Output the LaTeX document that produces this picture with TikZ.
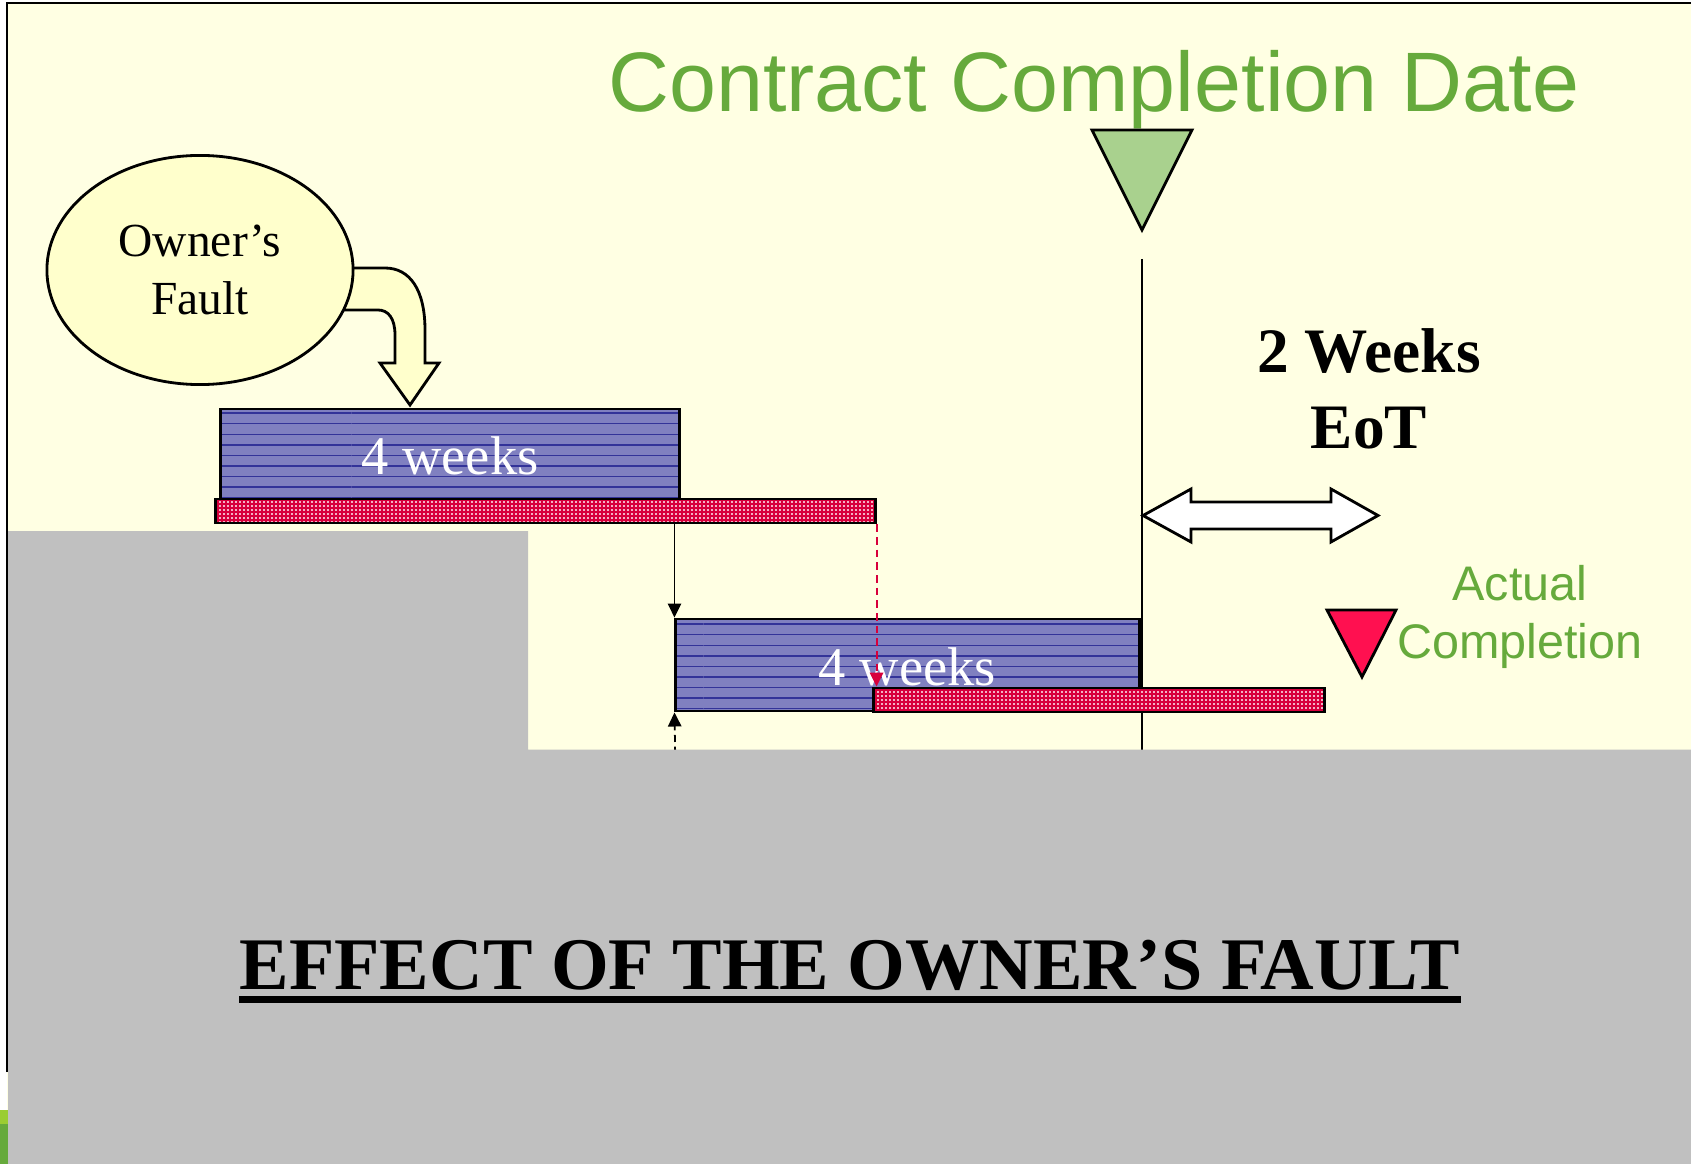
\documentclass[tikz,border=0pt]{standalone}
\usepackage{fontspec}
\setmainfont{Liberation Serif}
\newfontfamily\arialfont{Liberation Sans}
\usepackage{tikz}
\usetikzlibrary{arrows.meta,patterns,shapes.geometric}
\definecolor{cream}{HTML}{FFFFE3}
\definecolor{paleyellow}{HTML}{FFFFCC}
\definecolor{leaf}{HTML}{66AA3C}
\definecolor{paleleaf}{HTML}{A9D18E}
\definecolor{lime}{HTML}{9ACD32}
\definecolor{crimson}{HTML}{FF1050}
\definecolor{barblue}{HTML}{8080C0}
\definecolor{navy}{HTML}{333399}
\definecolor{barred}{HTML}{D7003C}
\definecolor{cover}{HTML}{C0C0C0}
\pgfdeclarepatternformonly{finecheck}{\pgfqpoint{0pt}{0pt}}{\pgfqpoint{1.2pt}{1.2pt}}{\pgfqpoint{1.2pt}{1.2pt}}{\pgfpathrectangle{\pgfqpoint{0pt}{0pt}}{\pgfqpoint{0.6pt}{0.6pt}}\pgfusepath{fill}}
\tikzset{bluebar/.style={draw,line width=.8pt,preaction={fill=barblue},pattern=horizontal lines,pattern color=navy,inner sep=0pt,text=white,font=\fontsize{15.5}{19}\selectfont},redbar/.style={draw,line width=.8pt,preaction={fill=barred},pattern=finecheck,pattern color=white!70!barred,inner sep=0pt},link/.style={-{Triangle[length=4pt,width=3.8pt]},line width=.5pt},marker/.style={draw,line width=.8pt,line join=miter}}

\begin{document}
\begin{tikzpicture}[x=0.01cm,y=-0.01cm]
\useasboundingbox (0,0) rectangle (1691,1164);
\fill[white] (0,0) rectangle (1691,1164);
\fill[cream] (7,3) rectangle (1691,1164);
\draw[line width=.6pt] (7,1072) -- (7,3) -- (1691,3);
% contract date
\node[text=leaf,font=\arialfont\fontsize{24}{29}\selectfont,anchor=base,inner sep=0pt] (ccd) at (1094,112) {Contract Completion Date};
\draw[marker,fill=paleleaf] (1092,130) -- (1192,130) -- (1142,230) -- cycle;
\coordinate (dtop) at (1142,259);
\coordinate (dend) at (1142,800);
\draw[line width=.7pt] (dtop) -- (dend);
\node[font=\bfseries\fontsize{18}{21.6}\selectfont,align=center] (eot) at (1369,389) {2 Weeks\\EoT};
\draw[marker,fill=white] (1143,515.5) -- (1191,489) -- (1191,502) -- (1331,502) -- (1331,489) -- (1378,515.5) -- (1331,542) -- (1331,529) -- (1191,529) -- (1191,542) -- cycle;
\draw[marker,fill=crimson] (1327,610) -- (1396,610) -- (1362,677) -- cycle;
\node[text=leaf,font=\arialfont\fontsize{13.8}{16.6}\selectfont,align=center] (actual) at (1520,617) {Actual\\Completion};
% owner
\draw[marker,fill=paleyellow] (330,268) -- (385,268) .. controls (410,268) and (425,290) .. (425,330) -- (425,363) -- (439,363) -- (410,405) -- (380,363) -- (395,363) -- (395,335) .. controls (395,318) and (388,310) .. (378,310) -- (320,310);
\node[ellipse,draw,line width=.8pt,fill=paleyellow,minimum width=3.06cm,minimum height=2.29cm,font=\fontsize{13.5}{16.3}\selectfont,align=center] (owner) at (200,270) {Owner’s\\Fault};
% bars
\node[bluebar,minimum width=4.58cm,minimum height=.90cm] (w1) at (450,454) {\raisebox{-5.9pt}[0pt][0pt]{4 weeks}};
\node[redbar,minimum width=6.59cm,minimum height=.24cm] (r1) at (545.5,511) {};
\node[bluebar,minimum width=4.63cm,minimum height=.92cm] (w2) at (907.5,665) {\raisebox{-5.9pt}[0pt][0pt]{4 weeks}};
\node[redbar,minimum width=4.50cm,minimum height=.24cm] (r2) at (1099,700) {};
\draw[link] (r1.south -| w2.north west) -- (w2.north west);
\draw[link,draw=barred,line width=.6pt,dash pattern=on 2.2pt off 1.4pt] (r1.south east) -- (r1.south east |- r2.north);
\coordinate (lowstart) at (676,800);
\draw[link,dash pattern=on 2pt off 1.3pt] (lowstart) -- (w2.south west);
% cover
\fill[cover] (8,531) -- (528,531) -- (528,749.5) -- (1691,749.5) -- (1691,1164) -- (8,1164) -- cycle;
\fill[lime] (0,1110) rectangle (8,1124);
\fill[leaf] (0,1124) rectangle (8,1164);
\node[font=\bfseries\fontsize{21.1}{25}\selectfont,anchor=base,inner sep=0pt] (effect) at (850,989) {EFFECT OF THE OWNER’S FAULT};
\draw[line width=2pt] ([yshift=-3pt]effect.base west) -- ([yshift=-3pt]effect.base east);
\end{tikzpicture}
\end{document}
